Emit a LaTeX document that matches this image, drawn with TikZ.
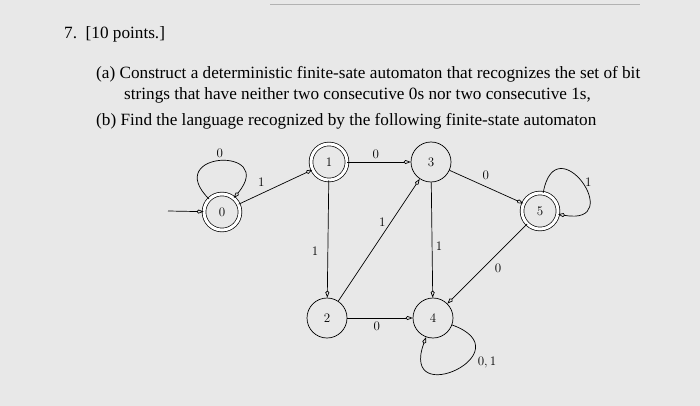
\documentclass[tikz,border=0pt]{standalone}
\usepackage{fontspec}
\setmainfont{Liberation Serif}
\newfontfamily\lmfont{Latin Modern Roman}
\usetikzlibrary{arrows.meta}
\tikzset{
  st/.style={circle,draw,line width=0.7pt,minimum size=40pt,inner sep=0pt,font=\lmfont\fontsize{13}{14}\selectfont},
  acc/.style={st,double,double distance=3pt,minimum size=36pt},
  tr/.style={draw,-{Kite[open,length=7pt,width=4pt]},line width=0.7pt},
  lb/.style={font=\lmfont\fontsize{13}{14}\selectfont},
  txt/.style={anchor=west,inner sep=0pt,font=\fontsize{17.2}{19}\selectfont}
}
\begin{document}
\begin{tikzpicture}[x=1pt,y=-1pt]
\fill[gray!18] (0,0) rectangle (700,406);
\useasboundingbox (0,0) rectangle (700,406);
\draw[gray!60,line width=0.4pt] (270,4) -- (640,4);
\node[txt] (t0) at (64,34) {7.\ \ [10 points.]};
\node[txt] (ta) at (96,74) {(a)\ Construct a deterministic finite-sate automaton that recognizes the set of bit};
\node[txt] (ta2) at (124,95) {strings that have neither two consecutive 0s nor two consecutive 1s,};
\node[txt] (tb) at (96,121) {(b)\ Find the language recognized by the following finite-state automaton};
\node[acc] (n0) at (222,212) {0};
\node[acc] (n1) at (329,162) {1};
\node[st] (n3) at (431,162) {3};
\node[acc] (n5) at (540,211) {5};
\node[st] (n2) at (327,318) {2};
\node[st] (n4) at (433,318) {4};
\coordinate (s) at (168,211);
\draw[tr] (s) -- (n0);
\draw[tr] (n0) to[out=135,in=50,looseness=7] node[lb,pos=0.5,above] {0} (n0);
\draw[tr] (n0) -- node[lb,above left,pos=0.4] {1} (n1);
\draw[tr] (n1) -- node[lb,above,pos=0.45] {0} (n3);
\draw[tr] (n1) -- node[lb,left=6pt,pos=0.6] {1} (n2);
\draw[tr] (n2) -- node[lb,left=2pt,pos=0.65] {1} (n3);
\draw[tr] (n3) -- node[lb,right,pos=0.55] {1} (n4);
\draw[tr] (n3) -- node[lb,above right,pos=0.4] {0} (n5);
\draw[tr] (n5) to[out=80,in=-10,looseness=7] node[lb,right] {1} (n5);
\draw[tr] (n5) -- node[lb,below right,pos=0.45] {0} (n4);
\draw[tr] (n2) -- node[lb,below,pos=0.45] {0} (n4);
\draw[tr] (n4) to[out=-20,in=-110,looseness=7] node[lb,below right,pos=0.3] {0,\,1} (n4);
\end{tikzpicture}
\end{document}
